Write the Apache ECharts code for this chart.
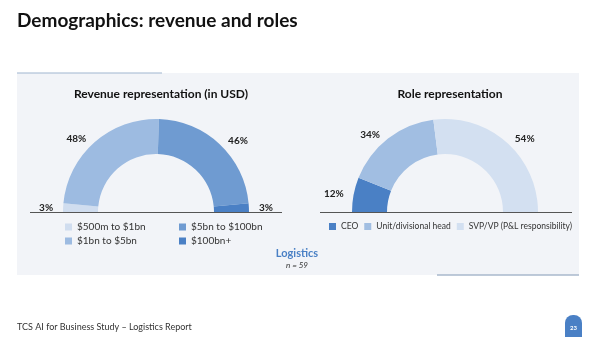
<!DOCTYPE html>
<html>
<head>
<meta charset="utf-8">
<script src="https://cdn.jsdelivr.net/npm/echarts@6/dist/echarts.min.js"></script>
<style>
html,body{margin:0;padding:0;background:#fff;}
#main{width:600px;height:337px;}
</style>
</head>
<body>
<div id="main"></div>
<script>
//收入分布
var revenueNames = ['$500m to $1bn', '$1bn to $5bn', '$5bn to $100bn', '$100bn+'];
var revenueValues = [3, 48, 46, 3];
var revenueColors = ['#d0ddef', '#9dbbe1', '#6f9bd1', '#4a80c5'];
//角色分布
var roleNames = ['CEO', 'Unit/divisional head', 'SVP/VP (P&L responsibility)'];
var roleValues = [12, 34, 54];
var roleColors = ['#4a80c5', '#a1bee2', '#d3e0f1'];

var font = 'Lato';
var myChart = echarts.init(document.getElementById('main'));

function toData(names, values, colors){
    var arr = [];
    for (var i = 0; i < names.length; i++) {
        arr.push({name: names[i], value: values[i], itemStyle: {color: colors[i]}});
    }
    return arr;
}

function halfPie(name, cx, data){
    return {
        name: name,
        type: 'pie',
        center: [cx, 212],
        radius: [58, 93],
        startAngle: 180,
        endAngle: 0,
        clockwise: true,
        silent: true,
        avoidLabelOverlap: false,
        itemStyle: {borderWidth: 0},
        label: {
            show: true,
            position: 'outside',
            formatter: '{c}%',
            fontFamily: font,
            fontSize: 10,
            fontWeight: 'bold',
            color: '#222'
        },
        labelLine: {show: false, length: 5, length2: 0},
        data: data
    };
}

var legendText = {fontFamily: font, fontSize: 10, color: '#333'};

var option = {
    animation: false,
    graphic: [
        {type: 'rect', shape: {x: 17, y: 73, width: 562, height: 202}, style: {fill: '#f2f4f8'}, z: -10},
        {type: 'line', shape: {x1: 17, y1: 73, x2: 162, y2: 73}, style: {stroke: '#9fb5d0', lineWidth: 1.2}},
        {type: 'line', shape: {x1: 437, y1: 275, x2: 579, y2: 275}, style: {stroke: '#a9b8cc', lineWidth: 1.5}},
        {type: 'line', shape: {x1: 30, y1: 212.5, x2: 282, y2: 212.5}, style: {stroke: '#555', lineWidth: 1}, z: 10},
        {type: 'line', shape: {x1: 320, y1: 212.5, x2: 572, y2: 212.5}, style: {stroke: '#555', lineWidth: 1}, z: 10},
        {type: 'text', left: 17, top: 11, style: {text: 'Demographics: revenue and roles', font: 'bold 19px ' + font, fill: '#111'}},
        {type: 'text', left: 17, top: 323, style: {text: 'TCS AI for Business Study \u2013 Logistics Report', font: '9px ' + font, fill: '#333'}},
        {type: 'rect', shape: {x: 565, y: 315, width: 17, height: 24, r: [8, 8, 0, 0]}, style: {fill: '#4a80c5'}},
        {type: 'text', x: 573.5, y: 328, style: {text: '23', font: 'bold 6px ' + font, fill: '#fff', align: 'center', verticalAlign: 'middle'}},
        {type: 'text', x: 297, y: 253, style: {text: 'Logistics', font: 'bold 11px ' + font, fill: '#4a80c5', align: 'center', verticalAlign: 'middle'}},
        {type: 'text', x: 297, y: 265, style: {text: 'n = 59', font: 'italic 8px ' + font, fill: '#333', align: 'center', verticalAlign: 'middle'}}
    ],
    title: [
        {text: 'Revenue representation (in USD)', left: 156, top: 83, textAlign: 'center',
            textStyle: {fontFamily: font, fontSize: 12, fontWeight: 'bold', color: '#111'}},
        {text: 'Role representation', left: 445, top: 83, textAlign: 'center',
            textStyle: {fontFamily: font, fontSize: 12, fontWeight: 'bold', color: '#111'}}
    ],
    legend: [
        {data: [revenueNames[0], revenueNames[1]], orient: 'vertical', left: 65, top: 222, itemGap: 4, padding: 0,
            itemWidth: 7, itemHeight: 7, icon: 'rect', textStyle: legendText, selectedMode: false},
        {data: [revenueNames[2], revenueNames[3]], orient: 'vertical', left: 179, top: 222, itemGap: 4, padding: 0,
            itemWidth: 7, itemHeight: 7, icon: 'rect', textStyle: legendText, selectedMode: false},
        {data: roleNames, orient: 'horizontal', left: 329, top: 222, width: 268, itemGap: 6, padding: 0,
            itemWidth: 7, itemHeight: 7, icon: 'rect', textStyle: {fontFamily: font, fontSize: 8.5, color: '#333'},
            selectedMode: false}
    ],
    series: [
        halfPie('revenue', 156, toData(revenueNames, revenueValues, revenueColors)),
        halfPie('role', 445, toData(roleNames, roleValues, roleColors))
    ]
};
myChart.setOption(option);
</script>
</body>
</html>
